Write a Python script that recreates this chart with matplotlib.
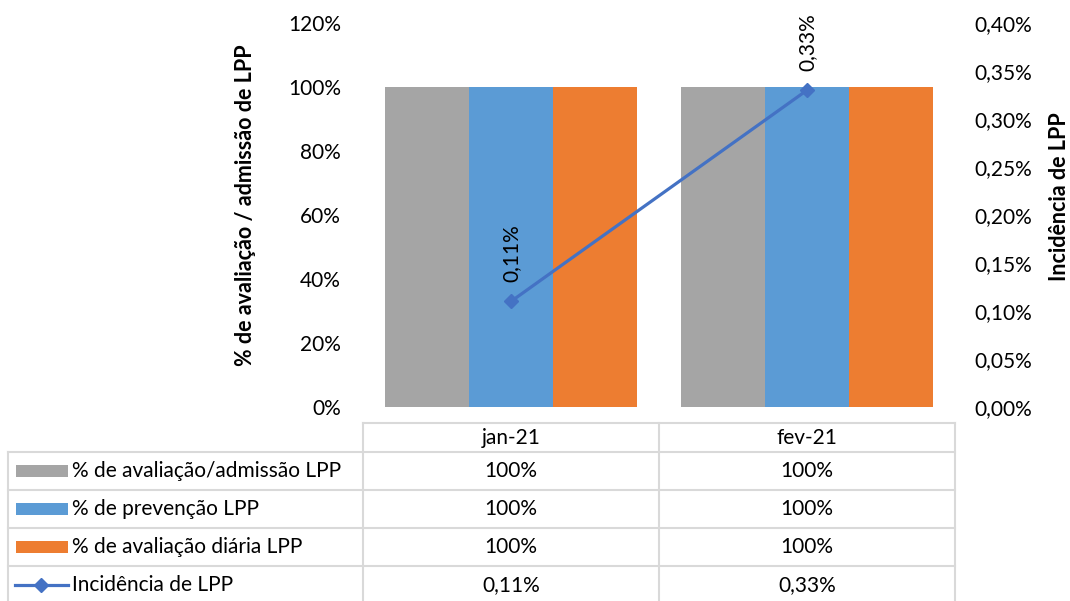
import matplotlib.pyplot as plt
import matplotlib.lines as mlines
import matplotlib.patches as mpatches
import numpy as np

months = ['jan-21', 'fev-21']
avaliacao = [100, 100]
prevencao = [100, 100]
diaria = [100, 100]
incidencia = [0.11, 0.33]

series_names = ['% de avaliação/admissão LPP', '% de prevenção LPP',
                '% de avaliação diária LPP', 'Incidência de LPP']
colors = ['#A5A5A5', '#5B9BD5', '#ED7D31']
line_color = '#4472C4'

plt.rcParams['font.family'] = ['Lato', 'DejaVu Sans']
fs = 15

W, H = 1070, 601
fig = plt.figure(figsize=(W / 100, H / 100), dpi=100)


def px(x, y):
    return x / W, 1 - y / H


ax = fig.add_axes([363 / W, 1 - 407 / H, 592 / W, 384 / H])
x = np.arange(len(months))
bw = 0.284
for i, vals in enumerate([avaliacao, prevencao, diaria]):
    ax.bar(x + (i - 1) * bw, vals, bw, color=colors[i])
ax.set_xlim(-0.5, len(months) - 0.5)
ax.set_ylim(0, 120)
ax.set_yticks(range(0, 121, 20))
ax.set_yticklabels(['%d%%' % v for v in range(0, 121, 20)])
ax.set_xticks([])
ax.tick_params(axis='y', length=0, pad=16, labelsize=fs)
for s in ax.spines.values():
    s.set_visible(False)
fig.text(*px(245, 205), '% de avaliação / admissão de LPP', rotation=90,
         ha='center', va='center', fontsize=15.5, fontweight='bold')

ax2 = ax.twinx()
ax2.plot(x, incidencia, color=line_color, lw=2.3, marker='D', ms=7)
ax2.set_ylim(0, 0.40)
rt = np.arange(0, 0.401, 0.05)
ax2.set_yticks(rt)
ax2.set_yticklabels([('%.2f%%' % v).replace('.', ',') for v in rt])
ax2.tick_params(axis='y', length=0, pad=14, labelsize=fs)
for s in ax2.spines.values():
    s.set_visible(False)
fig.text(*px(1059, 197), 'Incidência de LPP', rotation=90,
         ha='center', va='center', fontsize=15.5, fontweight='bold')
for xi, v in zip(x, incidencia):
    ax2.annotate(('%.2f%%' % v).replace('.', ','), (xi, v), xytext=(0, 14),
                 textcoords='offset points', rotation=90, ha='center', va='bottom',
                 fontsize=fs)

# data table
grid = '#D9D9D9'
lw = 1.5
col_x = [363, 659, 955]
row_y = [452, 490, 528, 566, 604]
fig.add_artist(mlines.Line2D([px(363, 0)[0], px(955, 0)[0]], [px(0, 423)[1]] * 2,
                             color=grid, lw=lw))
for y in row_y[:-1]:
    fig.add_artist(mlines.Line2D([px(8, 0)[0], px(955, 0)[0]], [px(0, y)[1]] * 2,
                                 color=grid, lw=lw))
fig.add_artist(mlines.Line2D([px(8, 0)[0]] * 2, [px(0, 452)[1], 0], color=grid, lw=lw))
for cx in col_x:
    fig.add_artist(mlines.Line2D([px(cx, 0)[0]] * 2, [px(0, 423)[1], 0], color=grid, lw=lw))

for j, m in enumerate(months):
    cx = (col_x[j] + col_x[j + 1]) / 2
    fig.text(*px(cx, 437.5), m, ha='center', va='center', fontsize=fs)

table_vals = [avaliacao, prevencao, diaria,
              [('%.2f%%' % v).replace('.', ',') for v in incidencia]]
for r, name in enumerate(series_names):
    cy = (row_y[r] + row_y[r + 1]) / 2
    fig.text(*px(72, cy), name, ha='left', va='center', fontsize=fs)
    if r < 3:
        fig.add_artist(mpatches.Rectangle(px(16, cy + 6), 52 / W, 12 / H,
                                          color=colors[r], lw=0))
    else:
        fig.add_artist(mlines.Line2D([px(15, 0)[0], px(68, 0)[0]], [px(0, cy)[1]] * 2,
                                     color=line_color, lw=2.3))
        fig.add_artist(mlines.Line2D([px(41, 0)[0]], [px(0, cy)[1]], color=line_color,
                                     marker='D', ms=7))
    for j in range(len(months)):
        cx = (col_x[j] + col_x[j + 1]) / 2
        v = table_vals[r][j]
        txt = v if isinstance(v, str) else '%d%%' % v
        fig.text(*px(cx, cy), txt, ha='center', va='center', fontsize=fs)

fig.savefig('out.png', dpi=100)
